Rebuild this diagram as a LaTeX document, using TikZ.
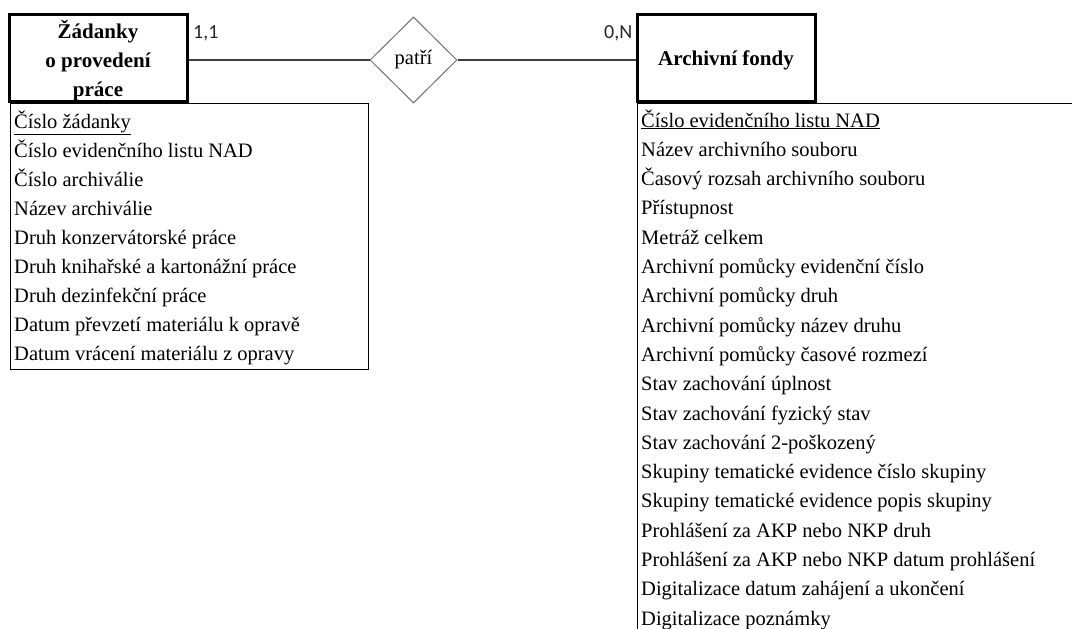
\documentclass[tikz,border=0pt]{standalone}
\usepackage{fontspec}
\setmainfont{Liberation Serif}
\newfontfamily\calfont{Carlito}
\usetikzlibrary{shapes.geometric}
\begin{document}
\begin{tikzpicture}[x=1pt,y=-1pt,
 entity/.style={draw, line width=3pt, minimum width=178pt, minimum height=87pt, inner sep=0pt},
 etitle/.style={inner sep=0pt, font=\fontsize{21}{29}\selectfont\bfseries, align=center},
 relship/.style={diamond, draw=black!55, line width=1pt, minimum width=87pt, minimum height=86pt, inner sep=0pt, aspect=1, font=\fontsize{20.5}{24}\selectfont},
 attrbox/.style={draw, line width=1.2pt, inner sep=0pt},
 attr/.style={anchor=base west, inner sep=0pt, font=\fontsize{20.5}{24}\selectfont},
 card/.style={anchor=base west, inner sep=0pt, font=\calfont\fontsize{20}{22}\selectfont, text=black!85},
 conn/.style={line width=1.2pt, draw=black!75}]
\useasboundingbox (0,0) rectangle (1072,629);
\clip (0,0) rectangle (1072,629);

% attribute boxes
\node[attrbox, anchor=north west, minimum width=358pt, minimum height=266pt] (lattr) at (10,103) {};
\node[attrbox, anchor=north west, minimum width=450pt, minimum height=540pt] (rattr) at (637,103) {};

% entities
\node[entity] (lent) at (98,57.5) {};
\node[etitle] (lentt) at (98,60.5) {Žádanky\\o provedení\\práce};
\node[entity] (rent) at (726,57.5) {};
\node[etitle] (rentt) at (726,60.5) {Archivní fondy};

% relationship
\node[relship] (rel) at (413.5,60) {patří};

% connectors
\draw[conn] (rel.west) -- (rel.west -| lent.east);
\draw[conn] (rel.east) -- (rel.east -| rent.west);

% cardinalities
\node[card] (c1) at (193,38) {1,1};
\node[card] (c2) at (604,38) {0,N};

% left attributes
\node[attr] (la0) at (14,128) {\underline{Číslo žádanky}};
\foreach \t [count=\i] in {Číslo evidenčního listu NAD, Číslo archiválie, Název archiválie, Druh konzervátorské práce, Druh knihařské a kartonážní práce, Druh dezinfekční práce, Datum převzetí materiálu k opravě, Datum vrácení materiálu z opravy}
  \node[attr] (la\i) at (14,{128+29*\i}) {\t};

% right attributes
\node[attr] (ra0) at (641,127) {\underline{Číslo evidenčního listu NAD}};
\foreach \t [count=\i] in {Název archivního souboru, Časový rozsah archivního souboru, Přístupnost, Metráž celkem, Archivní pomůcky evidenční číslo, Archivní pomůcky druh, Archivní pomůcky název druhu, Archivní pomůcky časové rozmezí, Stav zachování úplnost, Stav zachování fyzický stav, Stav zachování 2-poškozený, Skupiny tematické evidence číslo skupiny, Skupiny tematické evidence popis skupiny, Prohlášení za AKP nebo NKP druh, Prohlášení za AKP nebo NKP datum prohlášení, Digitalizace datum zahájení a ukončení, Digitalizace poznámky}
  \node[attr] (ra\i) at (641,{127+29.3*\i}) {\t};
\end{tikzpicture}
\end{document}
